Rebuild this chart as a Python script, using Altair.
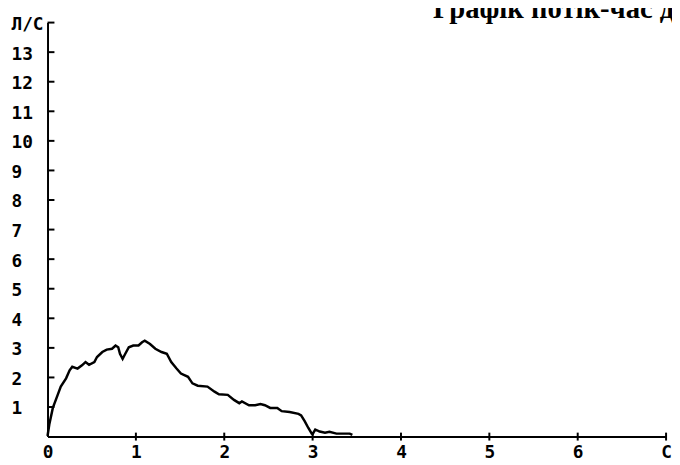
import altair as alt
import pandas as pd

# Flow-time curve (seconds, litres per second)
time_s = [0.0, 0.02, 0.06, 0.115, 0.15, 0.21, 0.25, 0.28, 0.34, 0.39, 0.43, 0.47,
          0.53, 0.56, 0.62, 0.67, 0.73, 0.77, 0.80, 0.82, 0.85, 0.88, 0.92, 0.97,
          1.03, 1.07, 1.10, 1.16, 1.22, 1.29, 1.35, 1.40, 1.46, 1.51, 1.59, 1.64,
          1.70, 1.81, 1.89, 1.94, 2.04, 2.11, 2.17, 2.20, 2.28, 2.35, 2.41, 2.46,
          2.52, 2.60, 2.65, 2.74, 2.84, 2.87, 2.91, 2.95, 2.99, 3.00, 3.03, 3.08,
          3.14, 3.19, 3.27, 3.42, 3.45]
flow_ls = [0.02, 0.41, 0.97, 1.41, 1.69, 1.97, 2.24, 2.36, 2.30, 2.41, 2.52, 2.43,
           2.52, 2.69, 2.86, 2.94, 2.97, 3.08, 3.02, 2.80, 2.63, 2.80, 3.02, 3.08,
           3.08, 3.19, 3.24, 3.13, 2.97, 2.86, 2.80, 2.52, 2.30, 2.13, 2.02, 1.80,
           1.72, 1.69, 1.52, 1.43, 1.41, 1.24, 1.13, 1.19, 1.06, 1.06, 1.10, 1.06,
           0.97, 0.97, 0.86, 0.83, 0.77, 0.72, 0.52, 0.30, 0.10, 0.08, 0.24, 0.17,
           0.13, 0.16, 0.10, 0.10, 0.06]

x_ticks = [0, 1, 2, 3, 4, 5, 6, 7]
y_ticks = [1, 2, 3, 4, 5, 6, 7, 8, 9, 10, 11, 12, 13, 14]
x_unit_label = "С"
y_unit_label = "Л/С"
title_text = "Графік потік-час д"

W, H = 626, 419
FONT = "DejaVu Sans Mono"

curve = pd.DataFrame({"t": time_s, "f": flow_ls})
xt = pd.DataFrame({"t": x_ticks[1:]})
yt = pd.DataFrame({"f": y_ticks})

xs = alt.Scale(domain=[0, 7], nice=False, zero=False)
ys = alt.Scale(domain=[0, 14], nice=False, zero=False)

x_axis = alt.Axis(values=x_ticks, ticks=False, grid=False, title=None,
                  domainColor="black", domainWidth=2, format="d",
                  labelOverlap=False, labelFlush=False,
                  labelFont=FONT, labelFontWeight="bold", labelFontSize=18,
                  labelColor="black", labelPadding=7, labelBaseline="top",
                  labelExpr=f"datum.value == 7 ? '{x_unit_label}' : datum.label")
y_axis = alt.Axis(values=y_ticks, ticks=False, grid=False, title=None,
                  domainColor="black", domainWidth=2, format="d",
                  labelOverlap=False, labelFlush=False,
                  labelFont=FONT, labelFontWeight="bold", labelFontSize=18,
                  labelColor="black", labelPadding=37, labelAlign="left",
                  labelBaseline="middle", labelOffset=2,
                  labelExpr=f"datum.value == 14 ? '{y_unit_label}' : datum.label")

line = alt.Chart(curve).mark_line(color="black", strokeWidth=2.5).encode(
    x=alt.X("t:Q", scale=xs, axis=x_axis),
    y=alt.Y("f:Q", scale=ys, axis=y_axis),
)

ytick_marks = alt.Chart(yt).mark_rule(color="black", strokeWidth=2).encode(
    y=alt.Y("f:Q", scale=ys, axis=y_axis),
    x=alt.value(0),
    x2=alt.value(7),
)

xtick_marks = alt.Chart(xt).mark_rule(color="black", strokeWidth=2).encode(
    x=alt.X("t:Q", scale=xs, axis=x_axis),
    y=alt.value(H - 4),
    y2=alt.value(H + 4),
)

title = alt.Chart(pd.DataFrame({"s": [title_text]})).mark_text(
    font="Liberation Serif", fontWeight="bold", fontSize=29, color="black",
    align="left", baseline="alphabetic",
).encode(text="s:N", x=alt.value(390), y=alt.value(-5))

chart = alt.layer(line, ytick_marks, xtick_marks, title).properties(
    width=W, height=H,
    padding={"left": 40, "top": 12, "right": 6, "bottom": 26},
    autosize="none",
    background="white",
).configure_view(stroke=None)

chart.save("out.html", embed_options={"renderer": "svg", "actions": False})
